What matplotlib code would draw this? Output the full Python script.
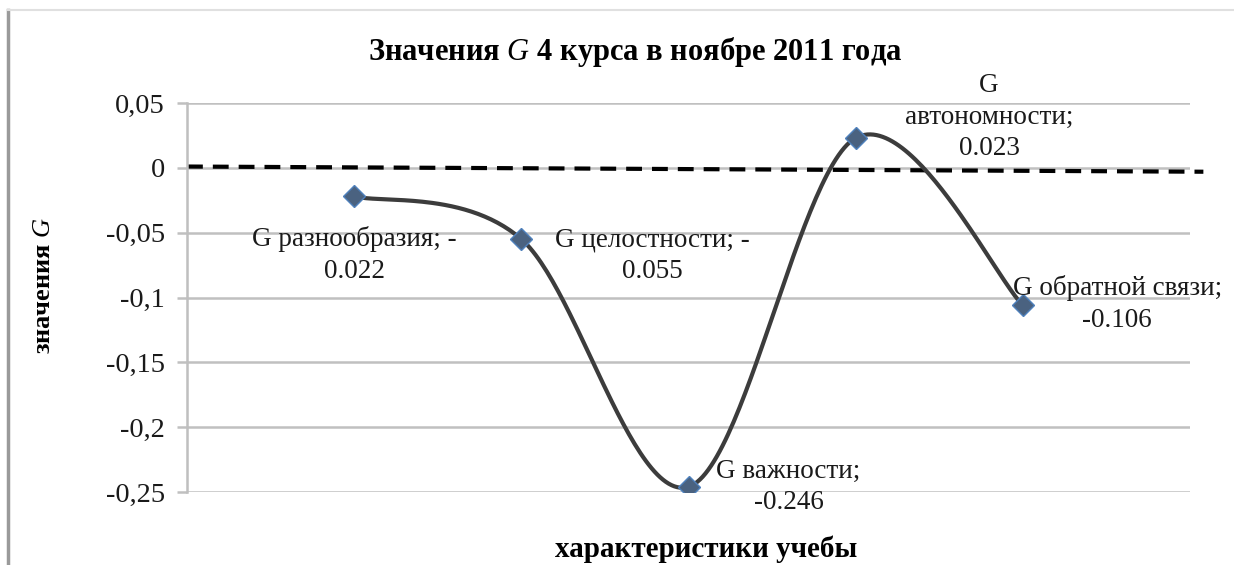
import numpy as np
import matplotlib
matplotlib.use("Agg")
import matplotlib.pyplot as plt
from matplotlib.lines import Line2D

plt.rcParams['font.family'] = ['Liberation Serif', 'DejaVu Serif']
plt.rcParams['mathtext.fontset'] = 'custom'
plt.rcParams['mathtext.rm'] = 'Liberation Serif'
plt.rcParams['mathtext.it'] = 'Liberation Serif:italic'
plt.rcParams['mathtext.bf'] = 'Liberation Serif:bold'

# ---- data ----
categories = ["G разнообразия", "G целостности", "G важности",
              "G автономности", "G обратной связи"]
values = [-0.022, -0.055, -0.246, 0.023, -0.106]
label_texts = ["G разнообразия; -\n0.022", "G целостности; -\n0.055",
               "G важности;\n-0.246", "G\nавтономности;\n0.023",
               "G обратной связи;\n-0.106"]
yticks = [0.05, 0, -0.05, -0.1, -0.15, -0.2, -0.25]
ytick_labels = ["0,05", "0", "-0,05", "-0,1", "-0,15", "-0,2", "-0,25"]
ref_line_x = [0.0, 6.08]
ref_line_y = [0.001, -0.003]

W, H = 1234, 565
fig = plt.figure(figsize=(W / 100, H / 100), dpi=100)
ax = fig.add_axes([187 / W, 1 - 492 / H, (1190 - 187) / W, (492 - 103) / H])

x = np.arange(1, len(values) + 1, dtype=float)
y = np.array(values)

# Excel-like smoothed line (Bezier through points)
def smooth(xs, ys, n=60):
    P = np.column_stack([xs, ys])
    out = []
    m = len(P)
    for i in range(m - 1):
        p0 = P[i - 1] if i > 0 else P[i]
        p1 = P[i]
        p2 = P[i + 1]
        p3 = P[i + 2] if i + 2 < m else P[i + 1]
        c1 = p1 + (p2 - p0) / 6.0
        c2 = p2 - (p3 - p1) / 6.0
        t = np.linspace(0, 1, n)[:, None]
        seg = ((1 - t) ** 3) * p1 + 3 * ((1 - t) ** 2) * t * c1 + 3 * (1 - t) * t ** 2 * c2 + t ** 3 * p2
        out.append(seg if i == 0 else seg[1:])
    return np.vstack(out)

curve = smooth(x, y)

for v in yticks:
    ax.axhline(v, color='#c0c0c0', lw=1.8, zorder=1)

ax.plot(curve[:, 0], curve[:, 1], color='#3c3c3c', lw=3, zorder=3, solid_capstyle='round')
ax.plot(x, y, linestyle='none', marker='D', markersize=11,
        markerfacecolor='#4a6280', markeredgecolor='#4f81bd', markeredgewidth=1, zorder=4)

ax.plot(ref_line_x, ref_line_y, color='black', lw=3, dashes=(3.8, 2.4), zorder=2, clip_on=False)

ax.set_xlim(0, 6)
ax.set_ylim(-0.25, 0.05)
ax.set_yticks(yticks)
ax.set_yticklabels(ytick_labels, fontsize=20.5)
ax.set_xticks([])
for s in ['top', 'right', 'bottom']:
    ax.spines[s].set_visible(False)
ax.spines['left'].set_color('#bfbfbf')
ax.spines['left'].set_linewidth(1.8)
ax.tick_params(axis='y', length=7, width=1.8, color='#c0c0c0', pad=9, labelcolor='#1a1a1a')

# data labels (offsets in points from each marker)
offsets = [(0, -42), (94, -12), (72, 0), (96, 15), (68, 1)]
lfs = 19.5
for xi, yi, txt, (dx, dy) in zip(x, y, label_texts, offsets):
    ax.annotate(txt, (xi, yi), xytext=(dx, dy), textcoords='offset points',
                ha='center', va='center', multialignment='center',
                fontsize=lfs, color='#1a1a1a', linespacing=1.35, zorder=5)

fig.text(635 / W, 1 - 52 / H, r"Значения $\mathit{G}$ 4 курса в ноябре 2011 года",
         ha='center', va='center', fontsize=22, fontweight='bold')
fig.text(706 / W, 1 - 549 / H, "характеристики учебы",
         ha='center', va='center', fontsize=21, fontweight='bold')
fig.text(44 / W, 1 - 285 / H, r"значения $\mathit{G}$", rotation=90,
         ha='center', va='center', fontsize=19, fontweight='bold')

# page borders
fig.add_artist(Line2D([8 / W, 8 / W], [0, 1 - 10 / H], color='#9a9a9a', lw=2.5))
fig.add_artist(Line2D([8 / W, 1], [1 - 10 / H, 1 - 10 / H], color='#e0e0e0', lw=1.5))

fig.savefig("out.png", dpi=100)
